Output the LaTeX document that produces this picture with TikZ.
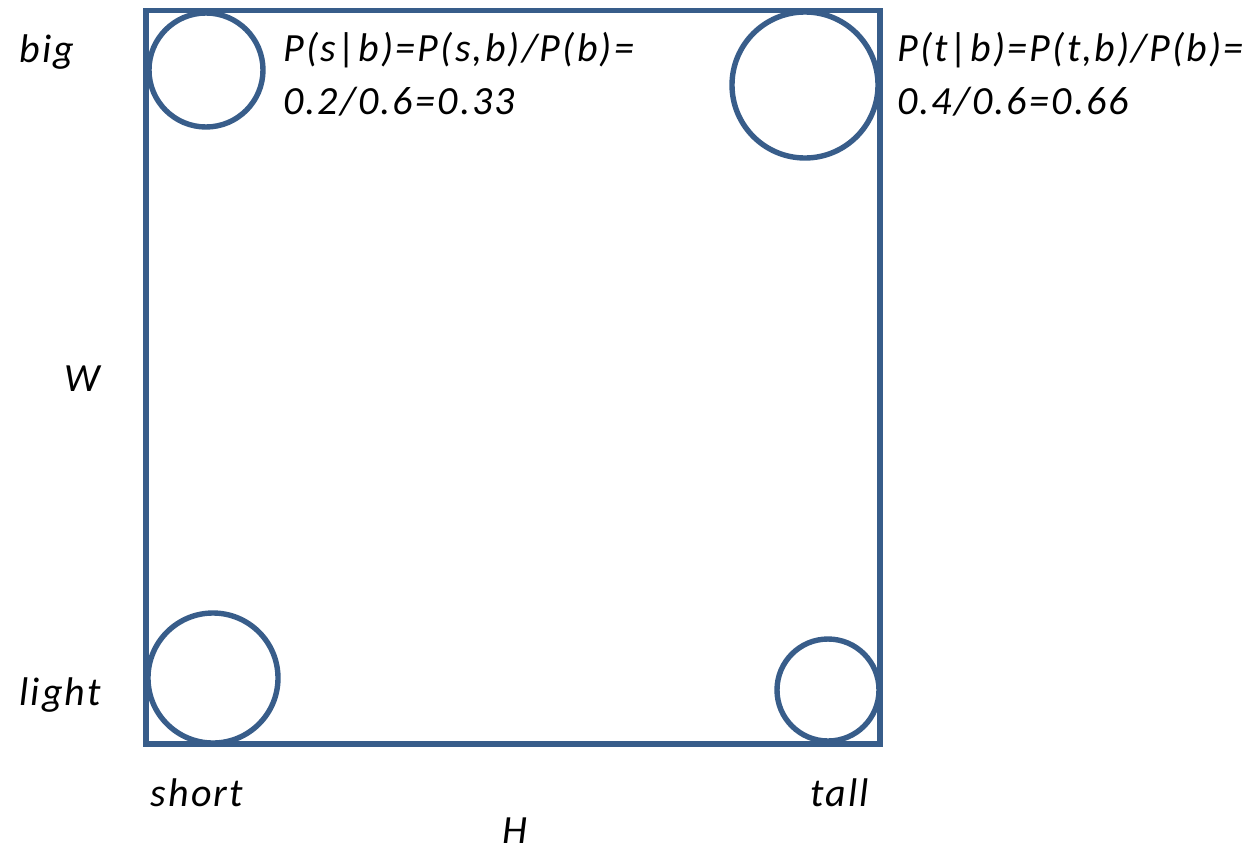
\documentclass[tikz,border=0pt]{standalone}
\usepackage{fontspec}
\setmainfont{Carlito}[LetterSpace=5.5]
\definecolor{boxblue}{HTML}{385D8A}
\begin{document}
\begin{tikzpicture}[x=1pt,y=-1pt,
  outline/.style={draw=boxblue,line width=5.4pt},
  lbl/.style={font=\fontsize{40}{53}\selectfont\itshape,inner sep=0pt,anchor=base},
  formula/.style={font=\fontsize{40}{53}\selectfont\itshape,inner sep=0pt,anchor=base west,align=left}]
\useasboundingbox (0,0) rectangle (1255,849);
\draw[outline,line join=miter] (146,10.5) rectangle (880,744);
\node[outline,circle,minimum size=114pt,inner sep=0pt] (bigshort) at (206,70) {};
\node[outline,circle,minimum size=146pt,inner sep=0pt] (bigtall) at (805,85) {};
\node[outline,circle,minimum size=130pt,inner sep=0pt] (lightshort) at (213,678) {};
\node[outline,circle,minimum size=102pt,inner sep=0pt] (lighttall) at (828,690) {};
\node[formula] (f1a) at (283,61) {P(s|b)=P(s,b)/P(b)=};
\node[formula] (f1b) at (283,114) {0.2/0.6=0.33};
\node[formula] (f2a) at (897,61) {P(t|b)=P(t,b)/P(b)=};
\node[formula] (f2b) at (897,114) {0.4/0.6=0.66};
\node[lbl] (big) at (47,62) {big};
\node[lbl] (W) at (82,391) {W};
\node[lbl] (light) at (60,705) {light};
\node[lbl] (short) at (197,806) {short};
\node[lbl] (tall) at (840,806) {tall};
\node[lbl] (H) at (515,843) {H};
\end{tikzpicture}
\end{document}
